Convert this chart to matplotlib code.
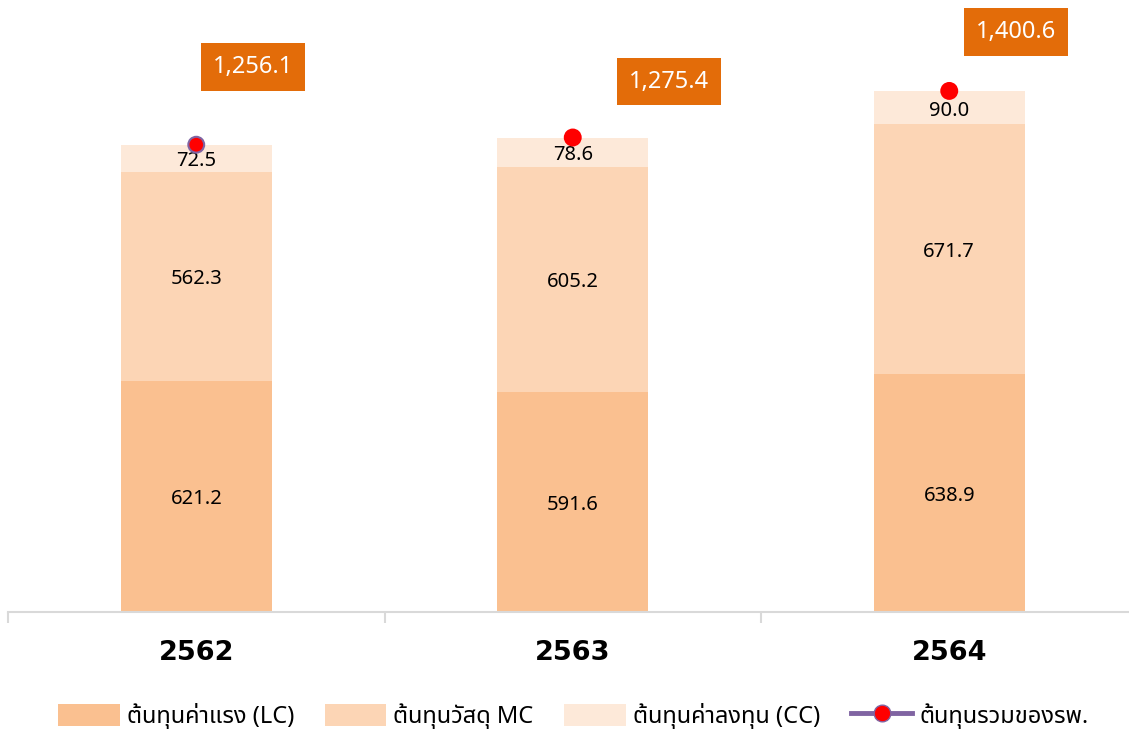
import matplotlib
matplotlib.use("Agg")
import matplotlib.pyplot as plt
import numpy as np

plt.rcParams['font.family'] = ['Noto Sans Thai', 'DejaVu Sans']

years = ['2562', '2563', '2564']
lc = [621.2, 591.6, 638.9]
mc = [562.3, 605.2, 671.7]
cc = [72.5, 78.6, 90.0]
total = [1256.1, 1275.4, 1400.6]
labels = ['ต้นทุนค่าแรง (LC)', 'ต้นทุนวัสดุ MC', 'ต้นทุนค่าลงทุน (CC)', 'ต้นทุนรวมของรพ.']

c_lc, c_mc, c_cc = '#FAC090', '#FCD5B5', '#FDE9D9'

fig = plt.figure(figsize=(11.29, 7.34), dpi=100)
ax = fig.add_axes([8/1129, 122/734, 1129.5/1129, 612/734])
x = np.arange(len(years))
w = 0.4
b1 = ax.bar(x, lc, w, color=c_lc, label=labels[0])
b2 = ax.bar(x, mc, w, bottom=lc, color=c_mc, label=labels[1])
bot3 = np.array(lc) + np.array(mc)
b3 = ax.bar(x, cc, w, bottom=bot3, color=c_cc, label=labels[2])
tops = bot3 + np.array(cc)

for bars, vals, bottoms in [(b1, lc, np.zeros(3)), (b2, mc, np.array(lc)), (b3, cc, bot3)]:
    for xi, v, bt in zip(x, vals, bottoms):
        ax.annotate(f'{v:.1f}', xy=(xi, bt + v / 2), xytext=(0, -3), textcoords='offset pixels',
                    ha='center', va='center', fontsize=14.5, color='black')

ax.scatter(x, tops, s=130, color='red', edgecolors=['#8064A2', 'red', 'red'], linewidths=1.5, zorder=5)
line_handle, = ax.plot([], [], color='#8064A2', lw=3.5, marker='o', markersize=12,
                       markerfacecolor='red', markeredgecolor='#8064A2', label=labels[3])

offsets = [(57, 78), (96, 56), (67, 59)]
for xi, t, tv, (dx, dy) in zip(x, tops, total, offsets):
    ax.annotate(f'{tv:,.1f}', xy=(xi, t), xytext=(dx, dy), textcoords='offset pixels',
                ha='center', va='center', fontsize=17, color='white',
                bbox=dict(boxstyle='square,pad=0.5', fc='#E36C09', ec='none'))

ax.set_xlim(-0.5, 2.5)
ax.set_ylim(0, 1645)
for s in ['top', 'right', 'left']:
    ax.spines[s].set_visible(False)
ax.spines['bottom'].set_color('#D9D9D9')
ax.spines['bottom'].set_linewidth(1.5)
ax.set_yticks([])
ax.set_xticks(x)
ax.set_xticklabels(years, fontsize=19.5, fontweight='bold', family=['DejaVu Sans'])
ax.tick_params(axis='x', which='major', length=0, pad=20)
ax.set_xticks([-0.5, 0.5, 1.5, 2.5], minor=True)
ax.tick_params(axis='x', which='minor', length=8, color='#D9D9D9', width=1.5, direction='out')

handles = [b1, b2, b3, line_handle]
fig.legend(handles, labels, loc='center', bbox_to_anchor=(0.508, 18/734), ncol=4,
           frameon=False, fontsize=17, handlelength=2.6, handleheight=1.1, columnspacing=1.3, handletextpad=0.3)
fig.savefig('out.png')
